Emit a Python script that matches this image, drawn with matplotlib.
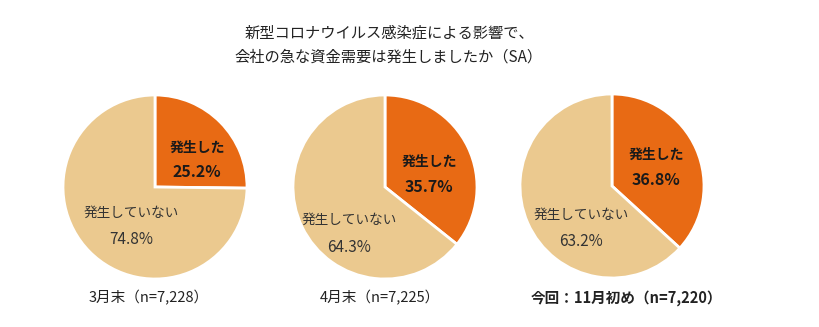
import matplotlib
matplotlib.use("Agg")
import matplotlib.pyplot as plt

plt.rcParams['font.family'] = ['Noto Sans CJK JP', 'DejaVu Sans']

title = "新型コロナウイルス感染症による影響で、\n会社の急な資金需要は発生しましたか（SA）"
categories = ["発生した", "発生していない"]
periods = ["3月末（n=7,228）", "4月末（n=7,225）", "今回：11月初め（n=7,220）"]
occurred = [25.2, 35.7, 36.8]
not_occurred = [74.8, 64.3, 63.2]

colors = ["#E86A14", "#EBC98F"]

W, H = 820, 327
fig = plt.figure(figsize=(W / 100, H / 100), dpi=100)

# pie centres and label positions in pixels
centers = [(155, 187), (385, 187), (612, 186)]
radius = 92
occ_xy = [(197, 148, 172), (429, 162, 187), (656, 155, 180)]
not_xy = [(131, 213, 239), (349, 220, 247), (581, 215, 242)]
caption_x = [149, 380, 626]

for i in range(3):
    cx, cy = centers[i]
    ax = fig.add_axes([(cx - radius) / W, (H - cy - radius) / H,
                       2 * radius / W, 2 * radius / H])
    ax.pie([occurred[i], not_occurred[i]], colors=colors, startangle=90,
           counterclock=False, radius=1,
           wedgeprops=dict(edgecolor="white", linewidth=2))
    ax.set_xlim(-1, 1)
    ax.set_ylim(-1, 1)
    ax.set_aspect("auto")
    ax.axis("off")

    def to_ax(px, py):
        return (px - cx) / radius, (cy - py) / radius

    x, y1, y2 = occ_xy[i]
    ax.text(*to_ax(x, y1), categories[0], ha="center", va="center",
            fontsize=10, fontweight="bold", color="#1a1a1a")
    ax.text(*to_ax(x, y2), f"{occurred[i]:.1f}%", ha="center", va="center",
            fontsize=11.5, fontweight="bold", color="#1a1a1a")
    x, y1, y2 = not_xy[i]
    ax.text(*to_ax(x, y1), categories[1], ha="center", va="center",
            fontsize=9.8, color="#333333")
    ax.text(*to_ax(x, y2), f"{not_occurred[i]:.1f}%", ha="center", va="center",
            fontsize=11, color="#333333")

    fig.text(caption_x[i] / W, 1 - 298 / H, periods[i], ha="center", va="center",
             fontsize=10.5, color="#222222",
             fontweight="bold" if i == 2 else "normal")

fig.text(389 / W, 1 - 45 / H, title, ha="center", va="center",
         fontsize=11, color="#222222", linespacing=1.6)

fig.savefig("out.png", dpi=100, facecolor="white")
